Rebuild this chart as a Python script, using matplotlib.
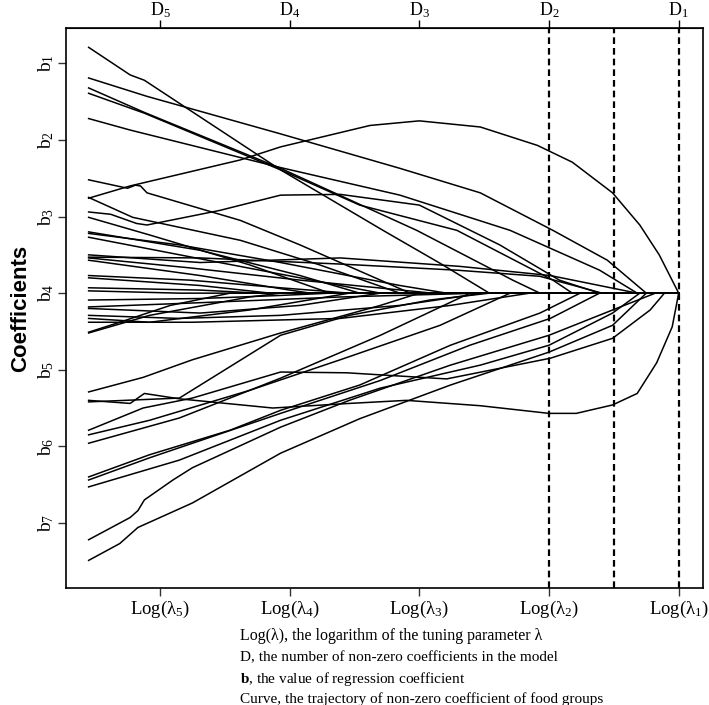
import matplotlib
matplotlib.use("Agg")
import matplotlib.pyplot as plt

plt.rcParams['font.family'] = ['Liberation Serif', 'DejaVu Serif']
plt.rcParams['mathtext.fontset'] = 'custom'
plt.rcParams['mathtext.rm'] = 'Liberation Serif'
plt.rcParams['mathtext.bf'] = 'Liberation Serif:bold'
plt.rcParams['mathtext.default'] = 'regular'

# tick positions / labels (log lambda axis, coefficient axis)
lam_pos = [1, 2, 3, 4, 5]
lam_labels = ['Log(λ$_5$)', 'Log(λ$_4$)', 'Log(λ$_3$)', 'Log(λ$_2$)', 'Log(λ$_1$)']
d_labels = ['D$_5$', 'D$_4$', 'D$_3$', 'D$_2$', 'D$_1$']
b_pos = [3, 2, 1, 0, -1, -2, -3]
b_labels = ['b$_1$', 'b$_2$', 'b$_3$', 'b$_4$', 'b$_5$', 'b$_6$', 'b$_7$']
cutoffs = [4.0, 4.5, 5.0]

# coefficient paths: (log lambda, coefficient)
upper_paths = [
    ([0.45, 0.77, 0.88, 1.93, 2.72, 3.16, 3.54], [3.21, 2.85, 2.78, 1.61, 0.82, 0.39, 0]),
    ([0.45, 0.90, 1.93, 2.85, 3.47, 4.03, 4.45, 4.75], [2.81, 2.57, 2.08, 1.63, 1.31, 0.82, 0.43, 0]),
    ([0.45, 0.88, 1.93, 2.98, 3.72, 3.93], [2.68, 2.36, 1.63, 0.82, 0.17, 0]),
    ([0.45, 0.88, 1.93, 2.54, 3.29, 4.03, 4.18], [2.61, 2.35, 1.61, 1.15, 0.82, 0.17, 0]),
    ([0.45, 0.77, 1.93, 2.85, 3.70, 4.39, 4.68], [2.28, 2.13, 1.64, 1.28, 0.82, 0.30, 0]),
    ([0.45, 0.77, 1.62, 1.93, 2.62, 3.0, 3.47, 3.91, 4.18, 4.49, 4.70, 4.85, 5.0],
     [1.24, 1.40, 1.74, 1.91, 2.19, 2.25, 2.17, 1.93, 1.71, 1.31, 0.89, 0.50, 0]),
    ([0.45, 0.75, 0.81, 0.85, 0.90, 1.62, 2.08, 2.70, 2.93], [1.48, 1.37, 1.41, 1.40, 1.31, 0.95, 0.63, 0.17, 0]),
    ([0.45, 0.79, 1.62, 2.23, 2.85], [1.25, 0.99, 0.69, 0.37, 0]),
    ([0.45, 0.62, 0.82, 0.90, 1.46, 1.93, 2.39, 3.0, 3.62, 4.08, 4.39],
     [1.06, 1.03, 0.91, 0.89, 1.08, 1.28, 1.29, 1.15, 0.63, 0.17, 0]),
]

cluster_paths = [
    ([0.45, 0.92, 1.69, 2.31], [0.99, 0.76, 0.37, 0]),
    ([0.45, 1.31, 2.08, 2.54], [0.80, 0.56, 0.23, 0]),
    ([0.45, 1.15, 1.93, 2.85, 3.21], [0.78, 0.63, 0.40, 0.10, 0]),
    ([0.45, 1.46, 2.39, 2.70], [0.73, 0.40, 0.10, 0]),
    ([0.45, 1.31, 2.39, 3.31, 4.01, 4.68], [0.50, 0.40, 0.46, 0.35, 0.23, 0]),
    ([0.45, 1.31, 2.39, 3.29, 3.93, 4.41], [0.47, 0.46, 0.38, 0.30, 0.22, 0]),
    ([0.45, 1.23, 2.08, 3.10], [0.46, 0.33, 0.17, 0]),
    ([0.45, 1.31, 2.0, 2.16], [0.43, 0.23, 0.04, 0]),
    ([0.45, 1.23, 1.93, 2.46], [0.23, 0.17, 0.07, 0]),
    ([0.45, 1.31, 1.85], [0.20, 0.10, 0]),
    ([0.45, 1.31, 1.77], [0.07, 0.04, 0]),
    ([0.45, 1.15], [0.03, 0]),
    ([0.45, 1.31, 1.93, 2.31], [-0.09, -0.07, -0.03, 0]),
    ([0.45, 1.23, 2.39, 3.47], [-0.18, -0.13, -0.05, 0]),
    ([0.45, 1.31, 2.08, 2.70], [-0.20, -0.26, -0.16, 0]),
    ([0.45, 1.15, 1.93, 2.85, 3.49], [-0.29, -0.33, -0.29, -0.16, 0]),
    ([0.45, 1.25, 2.39, 3.24, 3.85], [-0.38, -0.38, -0.33, -0.16, 0]),
    ([0.45, 0.92, 1.69, 2.46], [-0.33, -0.38, -0.22, 0]),
    ([0.45, 0.69, 1.08, 1.54], [-0.51, -0.38, -0.16, 0]),
    ([0.45, 0.92, 1.69, 1.93], [-0.52, -0.29, -0.05, 0]),
]

lower_paths = [
    ([0.45, 0.87, 1.25, 1.93, 2.70, 3.0], [-1.29, -1.10, -0.87, -0.52, -0.16, 0]),
    ([0.45, 0.77, 0.88, 1.15, 1.87, 2.46, 2.90, 3.47, 4.0, 4.21, 4.49, 4.68, 4.83, 4.95, 5.0],
     [-1.40, -1.44, -1.31, -1.38, -1.50, -1.44, -1.40, -1.47, -1.57, -1.57, -1.46, -1.31, -0.91, -0.44, 0]),
    ([0.45, 1.15, 1.93, 2.46, 3.08, 3.54], [-1.42, -1.37, -0.55, -0.29, -0.09, 0]),
    ([0.45, 0.87, 1.25, 1.93, 2.44, 3.21, 4.01, 4.49, 4.78, 4.89],
     [-1.79, -1.50, -1.37, -1.03, -1.04, -1.12, -0.85, -0.59, -0.22, 0]),
    ([0.45, 0.92, 1.69, 2.39, 3.16, 3.70], [-1.85, -1.66, -1.27, -0.87, -0.42, 0]),
    ([0.45, 1.15, 1.93, 2.70, 3.39], [-1.96, -1.63, -1.11, -0.55, 0]),
    ([0.45, 0.92, 1.54, 1.93, 2.54, 3.24, 3.93, 4.24], [-2.40, -2.11, -1.79, -1.53, -1.20, -0.68, -0.26, 0]),
    ([0.45, 0.92, 1.93, 2.70, 3.39, 4.01, 4.39], [-2.44, -2.15, -1.57, -1.14, -0.68, -0.33, 0]),
    ([0.45, 1.15, 1.93, 2.70, 3.47, 4.0, 4.49, 4.70], [-2.53, -2.18, -1.66, -1.24, -0.94, -0.68, -0.26, 0]),
    ([0.45, 0.77, 0.83, 0.88, 1.10, 1.25, 1.93, 2.46, 3.24, 4.0, 4.49, 4.82],
     [-3.22, -2.93, -2.84, -2.70, -2.44, -2.28, -1.75, -1.40, -0.94, -0.55, -0.22, 0]),
    ([0.45, 0.69, 0.83, 1.25, 1.93, 2.54, 3.24, 4.0, 4.49, 4.75],
     [-3.49, -3.27, -3.06, -2.74, -2.09, -1.64, -1.20, -0.77, -0.42, 0]),
]

fig = plt.figure(figsize=(7.09, 7.05), dpi=100)
ax = fig.add_axes([0.093, 0.166, 0.899, 0.794])

# once a coefficient hits zero it stays there up to the right end
for xs, ys in upper_paths + cluster_paths + lower_paths:
    xx = list(xs) + [5.0] if xs[-1] < 5.0 else list(xs)
    yy = list(ys) + [0] if xs[-1] < 5.0 else list(ys)
    ax.plot(xx, yy, color='black', lw=1.1, solid_joinstyle='round')

for c in cutoffs:
    ax.axvline(c, color='black', lw=1.6, linestyle=(0, (3, 1.8)))

ax.set_xlim(0.275, 5.19)
ax.set_ylim(-3.85, 3.46)

ax.set_xticks(lam_pos)
ax.set_xticklabels(lam_labels, fontsize=13.5)
ax.set_yticks(b_pos)
ax.set_yticklabels(b_labels, fontsize=14, rotation=90, va='center')
ax.tick_params(direction='out', length=6, width=1, color='#333333')
ax.tick_params(axis='x', pad=2)
ax.tick_params(axis='y', pad=1)

top = ax.secondary_xaxis('top')
top.set_xticks(lam_pos)
top.set_xticklabels(d_labels, fontsize=13)
top.tick_params(direction='out', length=6, width=1, pad=0)

for s in ax.spines.values():
    s.set_linewidth(1.2)

ax.set_ylabel('Coefficients', family='Liberation Sans', fontweight='bold', fontsize=16, labelpad=4)

fig.text(0.338, 1 - 636 / 705, 'Log(λ), the logarithm of the tuning parameter λ', fontsize=11.5, va='center')
fig.text(0.338, 1 - 658 / 705, 'D, the number of non-zero coefficients in the model', fontsize=11, va='center')
fig.text(0.338, 1 - 679 / 705, r'$\mathbf{b}$, the value of regression coefficient', fontsize=11, va='center')
fig.text(0.338, 1 - 699 / 705, 'Curve, the trajectory of non-zero coefficient of food groups', fontsize=11, va='center')

fig.savefig('out.png', dpi=100)
